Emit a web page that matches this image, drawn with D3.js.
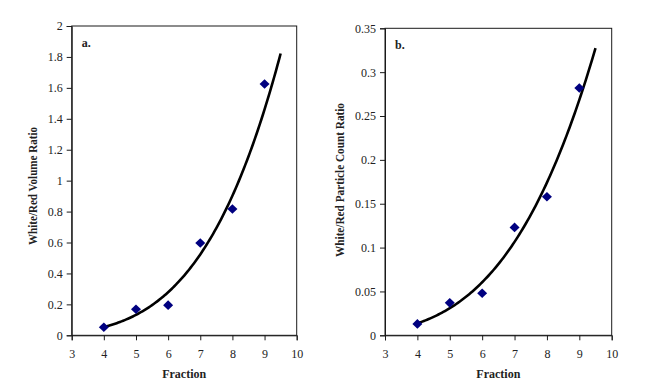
<!DOCTYPE html>
<html><head><meta charset="utf-8">
<script src="https://cdn.jsdelivr.net/npm/d3@7"></script>
<style>
html,body{margin:0;padding:0;background:#fff;}
svg{display:block;}
</style></head>
<body><svg id="c" width="659" height="391"></svg>
<script>
const fractions = [4, 5, 6, 7, 8, 9];
const volumeRatio = [0.052, 0.168, 0.195, 0.597, 0.817, 1.625];
const countRatio = [0.013, 0.037, 0.048, 0.123, 0.158, 0.282];
const xTicks = [3, 4, 5, 6, 7, 8, 9, 10];
const yTicksA = [0, 0.2, 0.4, 0.6, 0.8, 1, 1.2, 1.4, 1.6, 1.8, 2];
const yTicksB = [0, 0.05, 0.1, 0.15, 0.2, 0.25, 0.3, 0.35];
const trendRange = [4, 9.5];

const svg = d3.select("#c");

function powerFit(xs, ys) {
  const lx = xs.map(Math.log), ly = ys.map(Math.log);
  const mx = d3.mean(lx), my = d3.mean(ly);
  let sxy = 0, sxx = 0;
  lx.forEach((v, i) => { sxy += (v - mx) * (ly[i] - my); sxx += (v - mx) * (v - mx); });
  const b = sxy / sxx, a = Math.exp(my - b * mx);
  return x => a * Math.pow(x, b);
}

function panel(cfg) {
  const g = svg.append("g");
  const x = d3.scaleLinear().domain([3, 10]).range([cfg.left, cfg.right]);
  const y = d3.scaleLinear().domain([0, cfg.ymax]).range([cfg.bottom, cfg.top]);
  g.append("rect").attr("x", cfg.left).attr("y", cfg.top)
    .attr("width", cfg.right - cfg.left).attr("height", cfg.bottom - cfg.top)
    .attr("fill", "none").attr("stroke", "#1a1a1a").attr("stroke-width", 1);
  const xa = g.append("g").attr("transform", `translate(0,${cfg.bottom})`)
    .call(d3.axisBottom(x).tickValues(xTicks).tickSize(5).tickPadding(9).tickFormat(d3.format("d")));
  const ya = g.append("g").attr("transform", `translate(${cfg.left},0)`)
    .call(d3.axisLeft(y).tickValues(cfg.yticks).tickSize(5).tickPadding(4).tickFormat(d => String(+d.toFixed(2))));
  [xa, ya].forEach(a => {
    a.select(".domain").attr("stroke", "#1a1a1a");
    a.selectAll(".tick line").attr("stroke", "#1a1a1a");
    a.selectAll("text").attr("font-family", "Liberation Serif, serif").attr("font-size", 12).attr("fill", "#222");
  });
  const f = powerFit(fractions, cfg.values);
  const pts = d3.range(trendRange[0], trendRange[1] + 1e-9, 0.05).map(v => [v, f(v)]);
  g.append("path").datum(pts)
    .attr("d", d3.line().x(d => x(d[0])).y(d => y(d[1])).curve(d3.curveMonotoneX))
    .attr("fill", "none").attr("stroke", "#000").attr("stroke-width", 2.6);
  g.selectAll("path.pt").data(fractions).enter().append("path").attr("class", "pt")
    .attr("d", (d, i) => {
      const cx = x(d), cy = y(cfg.values[i]);
      return `M${cx - 5},${cy}L${cx},${cy - 4.8}L${cx + 5},${cy}L${cx},${cy + 4.8}Z`;
    })
    .attr("fill", "#000080");
  g.append("text").attr("x", (cfg.left + cfg.right) / 2).attr("y", 377.5)
    .attr("text-anchor", "middle").attr("font-family", "Liberation Serif, serif")
    .attr("font-weight", "bold").attr("font-size", 12).attr("fill", "#222").text("Fraction");
  g.append("text").attr("transform", `translate(${cfg.ylabelX},${cfg.ylabelY}) rotate(-90)`)
    .attr("text-anchor", "middle").attr("font-family", "Liberation Serif, serif")
    .attr("font-weight", "bold").attr("font-size", 11.5).attr("fill", "#222")
    .attr("textLength", cfg.ylabelLen).attr("lengthAdjust", "spacingAndGlyphs")
    .text(cfg.ylabel);
  g.append("text").attr("x", cfg.left + 10).attr("y", cfg.top + 21)
    .attr("font-family", "Liberation Serif, serif").attr("font-weight", "bold")
    .attr("font-size", 12).attr("fill", "#222").text(cfg.tag);
}

panel({left: 71.7, right: 296.7, top: 26, bottom: 335.3, ymax: 2, yticks: yTicksA,
  values: volumeRatio, ylabel: "White/Red Volume Ratio", ylabelX: 37, ylabelY: 186, ylabelLen: 118, tag: "a."});
panel({left: 385, right: 611.7, top: 28.3, bottom: 335.3, ymax: 0.35, yticks: yTicksB,
  values: countRatio, ylabel: "White/Red Particle Count Ratio", ylabelX: 344, ylabelY: 180, ylabelLen: 154, tag: "b."});
</script></body></html>
